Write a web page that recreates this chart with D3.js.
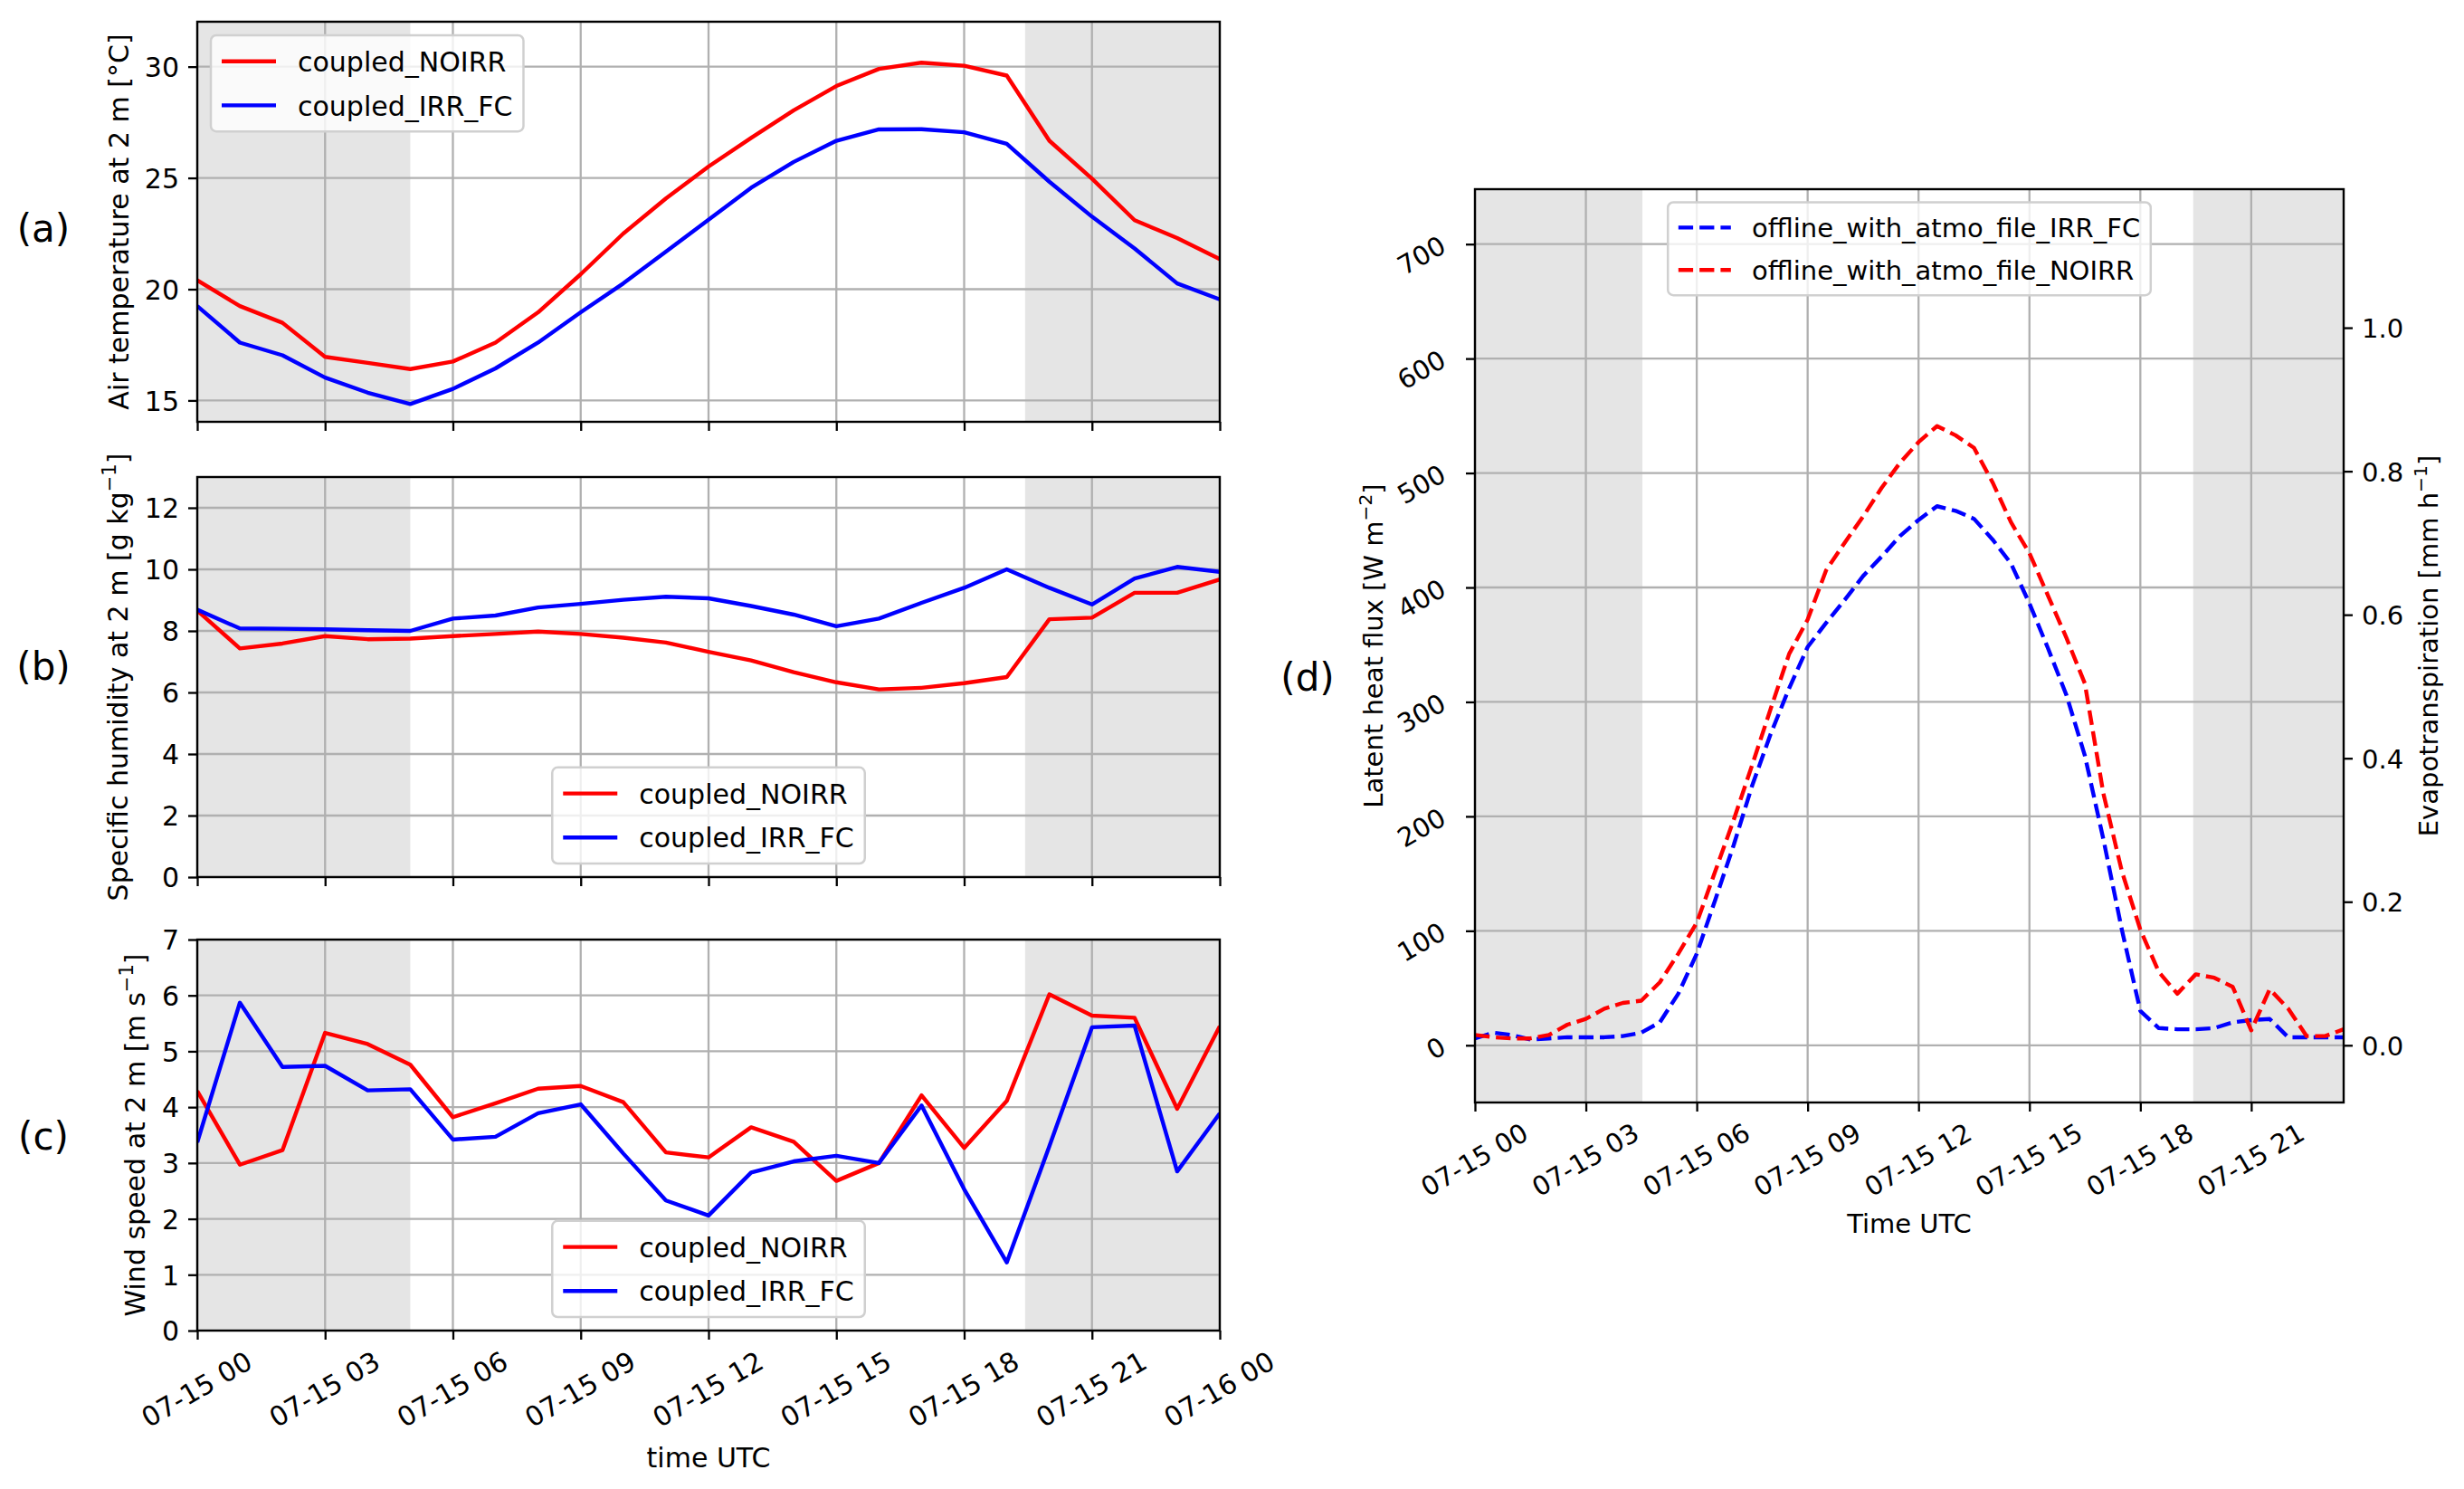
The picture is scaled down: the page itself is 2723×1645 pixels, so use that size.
<!DOCTYPE html>
<html>
<head>
<meta charset="utf-8">
<script src="https://cdn.jsdelivr.net/npm/d3@7/dist/d3.min.js"></script>
<style>
  body { margin: 0; background: #fff; }
  svg { display: block; }
</style>
</head>
<body>
<div id="chart"></div>
<script>
const width = 2723, height = 1645;
let FS = 29;

// coupled runs, hourly output
const hoursCoupled = [0,1,2,3,4,5,6,7,8,9,10,11,12,13,14,15,16,17,18,19,20,21,22,23,24];
const t2mNoirr = [20.4,19.24,18.49,16.96,16.69,16.41,16.75,17.6,18.96,20.67,22.5,24.08,25.51,26.8,28.04,29.13,29.9,30.18,30.04,29.6,26.67,24.97,23.1,22.3,21.35];
const t2mIrrFc = [19.24,17.6,17.03,16.03,15.35,14.84,15.52,16.44,17.6,18.96,20.26,21.69,23.12,24.56,25.72,26.67,27.18,27.19,27.05,26.53,24.83,23.26,21.83,20.26,19.54];
const q2mNoirr = [8.66,7.43,7.59,7.83,7.73,7.75,7.83,7.9,7.98,7.9,7.78,7.62,7.32,7.04,6.66,6.33,6.1,6.15,6.3,6.5,8.38,8.43,9.24,9.24,9.67];
const q2mIrrFc = [8.69,8.08,8.07,8.05,8.02,8.0,8.4,8.5,8.76,8.88,9.01,9.11,9.06,8.81,8.53,8.15,8.4,8.91,9.4,10.0,9.4,8.86,9.7,10.08,9.92];
const wsNoirr = [4.29,2.97,3.23,5.33,5.13,4.76,3.82,4.07,4.33,4.38,4.09,3.19,3.1,3.64,3.38,2.68,3.0,4.21,3.27,4.11,6.02,5.64,5.6,3.97,5.45];
const wsIrrFc = [3.37,5.87,4.72,4.74,4.3,4.32,3.42,3.47,3.89,4.05,3.17,2.33,2.06,2.83,3.03,3.13,3.0,4.03,2.53,1.22,3.3,5.43,5.46,2.85,3.89];

// offline runs, half-hourly output
const hoursOffline = [0,0.5,1,1.5,2,2.5,3,3.5,4,4.5,5,5.5,6,6.5,7,7.5,8,8.5,9,9.5,10,10.5,11,11.5,
  12,12.5,13,13.5,14,14.5,15,15.5,16,16.5,17,17.5,18,18.5,19,19.5,20,20.5,21,21.5,22,22.5,23,23.5];
const lheIrrFc = [6,11,9,5,6,7,7,7,8,11,20,45,80,127,175,227,272,312,348,369,389,410,427,445,
  459,471,467,460,442,421,386,347,306,253,180,101,30,15,14,14,15,20,22,23,7,7,7,7];
const lheNoirr = [9,7,6,6,9,18,23,32,37,39,55,80,107,152,197,245,294,342,372,415,439,462,487,509,
  527,541,533,522,492,457,430,393,356,316,220,152,101,64,45,62,59,51,13,49,32,8,8,14];

// night periods (hours)
const nightCoupled = [[0, 5], [19.43, 24]];
const nightOffline = [[0, 4.53], [19.43, 23.5]];

const ticksHours = [0,3,6,9,12,15,18,21,24];
const ticksHoursD = [0,3,6,9,12,15,18,21];
const ticksT2m = [15,20,25,30];
const ticksQ2m = [0,2,4,6,8,10,12];
const ticksWind = [0,1,2,3,4,5,6,7];
const ticksLhe = [0,100,200,300,400,500,600,700];
const ticksEt = [0,0.2,0.4,0.6,0.8,1.0];

const LV = 2.257e6 / 3600; // W m-2 per mm h-1

const RED = "#ff0000", BLUE = "#0000ff";
const FONT = '"DejaVu Sans", sans-serif';

const svg = d3.select("#chart").append("svg")
  .attr("width", width).attr("height", height)
  .attr("font-family", FONT);
svg.append("rect").attr("width", width).attr("height", height).attr("fill", "#fff");

const day0 = Date.UTC(2020, 6, 15);
const toTime = h => new Date(day0 + h * 3600000);
const fmtTime = d3.utcFormat("%m-%d %H");

function styleAxis(ax) {
  ax.attr("font-size", FS).attr("font-family", FONT);
  ax.select(".domain").remove();
  ax.selectAll(".tick line").attr("stroke", "#000").attr("stroke-width", 2.3);
  ax.selectAll(".tick text").attr("fill", "#000");
}

function addLabel(parent, parts, tx, ty, rot) {
  const t = parent.append("text").attr("text-anchor", "middle").attr("font-size", FS)
    .attr("transform", `translate(${tx},${ty}) rotate(${rot})`);
  let raised = false;
  parts.forEach(p => {
    const s = t.append("tspan").text(p.t);
    if (p.sup) { s.attr("font-size", FS * 0.7).attr("dy", -0.42 * FS); raised = true; }
    else if (raised) { s.attr("dy", 0.42 * FS); raised = false; }
  });
}

function addLegend(g, items, loc, box) {
  const pad = 0.4 * FS, hl = 2 * FS, htp = 0.8 * FS, ls = 0.5 * FS, rowH = 1.12 * FS;
  const lg = g.append("g");
  const frame = lg.append("rect").attr("rx", 6).attr("ry", 6)
    .attr("fill", "#fff").attr("fill-opacity", 0.8)
    .attr("stroke", "#d0d0d0").attr("stroke-width", 2.5);
  const texts = items.map(it => lg.append("text").attr("font-size", FS).text(it.label));
  const tw = d3.max(texts, t => t.node().getComputedTextLength());
  const w = 2 * pad + hl + htp + tw;
  const h = 2 * pad + items.length * rowH + (items.length - 1) * ls;
  const cx = (box.x0 + box.x1) / 2;
  let x, y;
  if (loc === "upper left") { x = box.x0 + 0.5 * FS; y = box.y0 + 0.5 * FS; }
  else if (loc === "upper center") { x = cx - w / 2; y = box.y0 + 0.5 * FS; }
  else { x = cx - w / 2; y = box.y1 - 0.5 * FS - h; }
  frame.attr("x", x).attr("y", y).attr("width", w).attr("height", h);
  items.forEach((it, i) => {
    const yc = y + pad + rowH / 2 + i * (rowH + ls);
    lg.append("line").attr("x1", x + pad).attr("x2", x + pad + hl)
      .attr("y1", yc).attr("y2", yc)
      .attr("stroke", it.color).attr("stroke-width", 4.4)
      .attr("stroke-dasharray", it.dash ? "16.3,7" : null);
    texts[i].attr("x", x + pad + hl + htp).attr("y", yc + 0.37 * FS);
  });
}

function makePanel(box, o) {
  FS = o.fs;
  const x = d3.scaleUtc().domain(o.xDomain.map(toTime)).range([box.x0, box.x1]);
  const y = d3.scaleLinear().domain(o.yDomain).range([box.y1, box.y0]);
  const g = svg.append("g");
  const clipId = "clip-" + o.id;
  g.append("clipPath").attr("id", clipId).append("rect")
    .attr("x", box.x0).attr("y", box.y0)
    .attr("width", box.x1 - box.x0).attr("height", box.y1 - box.y0);

  const plot = g.append("g").attr("clip-path", `url(#${clipId})`);

  plot.append("g").selectAll("rect").data(o.night).join("rect")
    .attr("x", d => x(toTime(d[0])))
    .attr("width", d => x(toTime(d[1])) - x(toTime(d[0])))
    .attr("y", box.y0).attr("height", box.y1 - box.y0)
    .attr("fill", "#e5e5e5");

  const grid = plot.append("g").attr("stroke", "#b0b0b0").attr("stroke-width", 2.3);
  grid.selectAll(".gx").data(o.xTicks).join("line").attr("class", "gx")
    .attr("x1", d => x(toTime(d))).attr("x2", d => x(toTime(d)))
    .attr("y1", box.y0).attr("y2", box.y1);
  grid.selectAll(".gy").data(o.yTicks).join("line").attr("class", "gy")
    .attr("x1", box.x0).attr("x2", box.x1)
    .attr("y1", d => y(d)).attr("y2", d => y(d));

  const line = d3.line().x(d => x(toTime(d[0]))).y(d => y(d[1]));
  o.series.forEach(s => {
    plot.append("path").datum(d3.zip(s.xs, s.ys))
      .attr("d", line).attr("fill", "none")
      .attr("stroke", s.color).attr("stroke-width", 4.4)
      .attr("stroke-linejoin", "round")
      .attr("stroke-dasharray", s.dash ? "16.3,7" : null);
  });

  // x axis
  const ax = g.append("g").attr("transform", `translate(0,${box.y1})`)
    .call(d3.axisBottom(x).tickValues(o.xTicks.map(toTime))
      .tickSize(10).tickPadding(10)
      .tickFormat(o.xLabels ? fmtTime : () => ""));
  styleAxis(ax);
  if (o.xLabels) {
    ax.selectAll(".tick text").each(function () {
      const w = this.getComputedTextLength();
      const hh = w * 0.5 + FS * Math.cos(Math.PI / 6);
      d3.select(this).attr("y", 0).attr("dy", "0.28em")
        .attr("transform", `translate(0,${20 + hh / 2}) rotate(-30)`);
    });
  }

  // y axis
  const ay = g.append("g").attr("transform", `translate(${box.x0},0)`)
    .call(d3.axisLeft(y).tickValues(o.yTicks).tickSize(10).tickPadding(10)
      .tickFormat(o.yFormat || d3.format("d")));
  styleAxis(ay);
  if (o.yRotate) {
    ay.selectAll(".tick text")
      .attr("x", 0).attr("dy", 0).attr("text-anchor", "end")
      .attr("transform", "translate(-30,7) rotate(-30)");
  } else {
    ay.selectAll(".tick text").attr("dy", "0.36em");
  }

  if (o.y2) {
    const y2 = d3.scaleLinear().domain(o.yDomain.map(v => v / LV)).range([box.y1, box.y0]);
    const ar = g.append("g").attr("transform", `translate(${box.x1},0)`)
      .call(d3.axisRight(y2).tickValues(o.y2.ticks).tickSize(10).tickPadding(10)
        .tickFormat(d3.format(".1f")));
    styleAxis(ar);
    ar.selectAll(".tick text").attr("dy", "0.36em");
    addLabel(g, o.y2.label, o.y2.labelX, (box.y0 + box.y1) / 2, -90);
  }

  // spines
  g.append("rect").attr("x", box.x0).attr("y", box.y0)
    .attr("width", box.x1 - box.x0).attr("height", box.y1 - box.y0)
    .attr("fill", "none").attr("stroke", "#000").attr("stroke-width", 2.4);

  addLegend(g, o.series.map(s => ({ label: s.label, color: s.color, dash: s.dash })), o.legend, box);

  addLabel(g, o.yLabel, o.yLabelX, (box.y0 + box.y1) / 2, -90);
  if (o.xTitle) {
    g.append("text").attr("x", (box.x0 + box.x1) / 2).attr("y", o.xTitle.y)
      .attr("text-anchor", "middle").attr("font-size", FS).text(o.xTitle.text);
  }
  g.append("text").attr("x", o.letter.x).attr("y", o.letter.y)
    .attr("text-anchor", "middle").attr("font-size", 42).text(o.letter.text);
}

makePanel({ x0: 218, x1: 1348, y0: 24, y1: 466 }, {
  id: "a", fs: 30, xDomain: [0, 24], yDomain: [14.04, 32.02],
  xTicks: ticksHours, yTicks: ticksT2m, night: nightCoupled, xLabels: false,
  series: [
    { xs: hoursCoupled, ys: t2mNoirr, color: RED, label: "coupled_NOIRR" },
    { xs: hoursCoupled, ys: t2mIrrFc, color: BLUE, label: "coupled_IRR_FC" }
  ],
  legend: "upper left",
  yLabel: [{ t: "Air temperature at 2 m [°C]" }], yLabelX: 142,
  letter: { text: "(a)", x: 48, y: 267 }
});

makePanel({ x0: 218, x1: 1348, y0: 527, y1: 969 }, {
  id: "b", fs: 30, xDomain: [0, 24], yDomain: [0, 13],
  xTicks: ticksHours, yTicks: ticksQ2m, night: nightCoupled, xLabels: false,
  series: [
    { xs: hoursCoupled, ys: q2mNoirr, color: RED, label: "coupled_NOIRR" },
    { xs: hoursCoupled, ys: q2mIrrFc, color: BLUE, label: "coupled_IRR_FC" }
  ],
  legend: "lower center",
  yLabel: [{ t: "Specific humidity at 2 m [g kg" }, { t: "−1", sup: true }, { t: "]" }], yLabelX: 141,
  letter: { text: "(b)", x: 48, y: 751 }
});

makePanel({ x0: 218, x1: 1348, y0: 1038, y1: 1470 }, {
  id: "c", fs: 30, xDomain: [0, 24], yDomain: [0, 7],
  xTicks: ticksHours, yTicks: ticksWind, night: nightCoupled, xLabels: true,
  series: [
    { xs: hoursCoupled, ys: wsNoirr, color: RED, label: "coupled_NOIRR" },
    { xs: hoursCoupled, ys: wsIrrFc, color: BLUE, label: "coupled_IRR_FC" }
  ],
  legend: "lower center",
  yLabel: [{ t: "Wind speed at 2 m [m s" }, { t: "−1", sup: true }, { t: "]" }], yLabelX: 160,
  xTitle: { text: "time UTC", y: 1621 },
  letter: { text: "(c)", x: 48, y: 1270 }
});

makePanel({ x0: 1630, x1: 2590, y0: 209, y1: 1218 }, {
  id: "d", fs: 29, xDomain: [0, 23.5], yDomain: [-50, 748],
  xTicks: ticksHoursD, yTicks: ticksLhe, night: nightOffline, xLabels: true,
  yRotate: true,
  series: [
    { xs: hoursOffline, ys: lheIrrFc, color: BLUE, dash: true, label: "offline_with_atmo_file_IRR_FC" },
    { xs: hoursOffline, ys: lheNoirr, color: RED, dash: true, label: "offline_with_atmo_file_NOIRR" }
  ],
  legend: "upper center",
  yLabel: [{ t: "Latent heat flux [W m" }, { t: "−2", sup: true }, { t: "]" }], yLabelX: 1528,
  y2: { ticks: ticksEt, label: [{ t: "Evapotranspiration [mm h" }, { t: "−1", sup: true }, { t: "]" }], labelX: 2694 },
  xTitle: { text: "Time UTC", y: 1362 },
  letter: { text: "(d)", x: 1445, y: 763 }
});
</script>
</body>
</html>
